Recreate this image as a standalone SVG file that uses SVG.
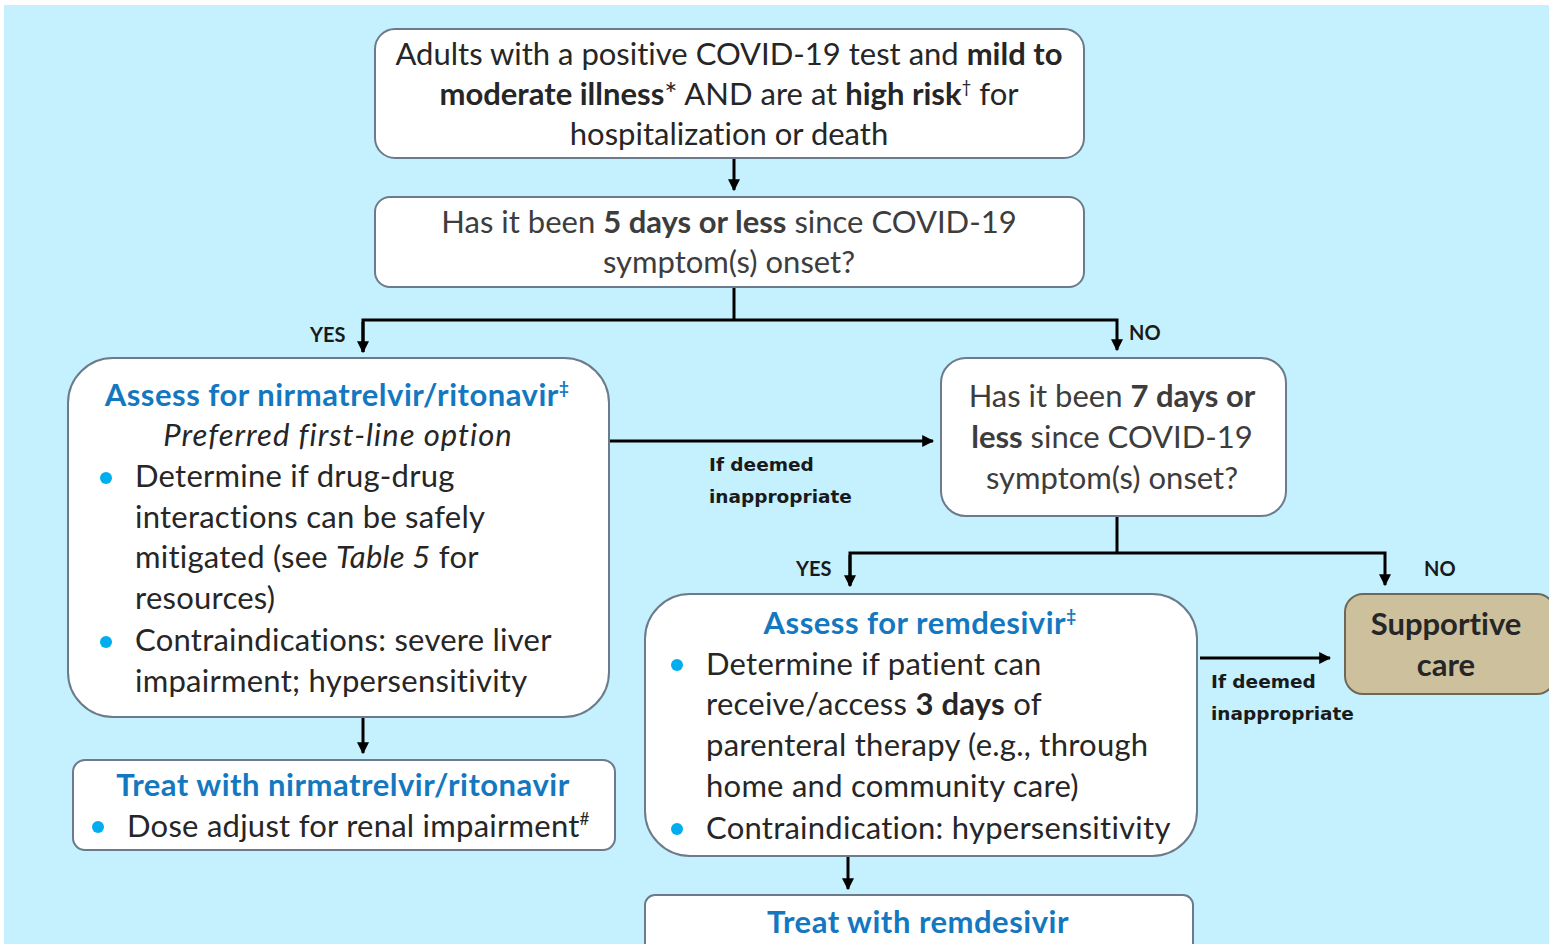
<svg xmlns="http://www.w3.org/2000/svg" width="1549" height="944" viewBox="0 0 1549 944">
<defs>
<marker id="ah" viewBox="0 0 10 10" refX="9" refY="5" markerWidth="4" markerHeight="4" markerUnits="strokeWidth" orient="auto">
<path d="M0,0 L10,5 L0,10 z" fill="#000"/>
</marker>
<style>
text{font-variant-ligatures:none}
.box{fill:#fff;stroke:#6c7b8b;stroke-width:2}
.sup{fill:#cdc09c;stroke:#6e6858;stroke-width:2}
.t{font-family:Lato,"Open Sans",sans-serif;font-size:31px;fill:#262626}
.bl{letter-spacing:0.25px}
.g{fill:#3d3d3d}
.b{font-weight:bold}
.i{font-style:italic}
.il{letter-spacing:1px}
.h{font-family:Lato,"Open Sans",sans-serif;font-size:31px;font-weight:bold;fill:#1478c0;letter-spacing:0.5px}
.lab{font-family:"DejaVu Sans",sans-serif;font-size:18.5px;font-weight:bold;fill:#1a1a1a}
.yn{font-family:Lato,sans-serif;font-size:20px;font-weight:bold;fill:#1a1a1a}
.dot{fill:#00aeef}
.c{fill:none;stroke:#000;stroke-width:3}
</style>
</defs>
<rect x="0" y="0" width="1549" height="944" fill="#fff"/>
<rect x="4" y="5" width="1545" height="939" fill="#c5f1fe"/>

<g id="connectors">
<line class="c" x1="734" y1="158" x2="734" y2="190" marker-end="url(#ah)"/>
<polyline class="c" points="734,287 734,320"/>
<polyline class="c" points="363,352 363,320 1117,320 1117,350" marker-end="url(#ah)"/>
<line class="c" x1="363" y1="322" x2="363" y2="352" marker-end="url(#ah)"/>
<line class="c" x1="609" y1="441" x2="933" y2="441" marker-end="url(#ah)"/>
<polyline class="c" points="1117,516 1117,553"/>
<polyline class="c" points="850,585 850,553 1385,553 1385,585" marker-end="url(#ah)"/>
<line class="c" x1="850" y1="555" x2="850" y2="586" marker-end="url(#ah)"/>
<line class="c" x1="1200" y1="658" x2="1330" y2="658" marker-end="url(#ah)"/>
<line class="c" x1="363" y1="717" x2="363" y2="753" marker-end="url(#ah)"/>
<line class="c" x1="848" y1="856" x2="848" y2="889" marker-end="url(#ah)"/>
<text class="yn" x="310" y="342">YES</text>
<text class="yn" x="1129" y="340">NO</text>
<text class="lab" x="709" y="471">If deemed</text>
<text class="lab" x="709" y="503">inappropriate</text>
<text class="yn" x="796" y="576">YES</text>
<text class="yn" x="1424" y="576">NO</text>
<text class="lab" x="1211" y="688">If deemed</text>
<text class="lab" x="1211" y="720">inappropriate</text>
</g>

<g id="start">
<rect class="box" x="375" y="29" width="709" height="129" rx="20"/>
<text class="t" text-anchor="middle" x="729" y="65">Adults with a positive COVID-19 test and <tspan class="b">mild to</tspan></text>
<text class="t" text-anchor="middle" x="729" y="105"><tspan class="b">moderate illness</tspan>* AND are at <tspan class="b">high risk</tspan><tspan font-size="17" dy="-12">†</tspan><tspan dy="12"> for</tspan></text>
<text class="t" text-anchor="middle" x="729" y="145">hospitalization or death</text>
</g>

<g id="q1">
<rect class="box" x="375" y="197" width="709" height="90" rx="15"/>
<text class="t g" text-anchor="middle" x="729" y="233">Has it been <tspan class="b">5 days or less</tspan> since COVID-19</text>
<text class="t g" text-anchor="middle" x="729" y="273">symptom(s) onset?</text>
</g>

<g id="assess-nirmatrelvir">
<rect class="box" x="68" y="358" width="541" height="359" rx="45"/>
<text class="h" text-anchor="middle" x="337" y="406">Assess for nirmatrelvir/ritonavir<tspan font-size="17" dy="-12">‡</tspan></text>
<text class="t i il" text-anchor="middle" x="338" y="446">Preferred first-line option</text>
<circle class="dot" cx="106" cy="478" r="6"/>
<text class="t bl" x="135" y="487">Determine if drug-drug</text>
<text class="t bl" x="135" y="528">interactions can be safely</text>
<text class="t bl" x="135" y="568">mitigated (see <tspan class="i">Table 5</tspan> for</text>
<text class="t bl" x="135" y="609">resources)</text>
<circle class="dot" cx="106" cy="642" r="6"/>
<text class="t bl" x="135" y="651">Contraindications: severe liver</text>
<text class="t bl" x="135" y="692">impairment; hypersensitivity</text>
</g>

<g id="q2">
<rect class="box" x="941" y="358" width="345" height="158" rx="25"/>
<text class="t g" text-anchor="middle" x="1112" y="407">Has it been <tspan class="b">7 days or</tspan></text>
<text class="t g" text-anchor="middle" x="1112" y="448"><tspan class="b">less</tspan> since COVID-19</text>
<text class="t g" text-anchor="middle" x="1112" y="489">symptom(s) onset?</text>
</g>

<g id="treat-nirmatrelvir">
<rect class="box" x="73" y="760" width="542" height="90" rx="12"/>
<text class="h" text-anchor="middle" x="343" y="796">Treat with nirmatrelvir/ritonavir</text>
<circle class="dot" cx="98" cy="827" r="6"/>
<text class="t bl" x="127" y="837">Dose adjust for renal impairment<tspan font-size="17" dy="-12">#</tspan></text>
</g>

<g id="assess-remdesivir">
<rect class="box" x="645" y="594" width="552" height="262" rx="45"/>
<text class="h" text-anchor="middle" x="920" y="634">Assess for remdesivir<tspan font-size="17" dy="-12">‡</tspan></text>
<circle class="dot" cx="677" cy="665" r="6"/>
<text class="t bl" x="706" y="675">Determine if patient can</text>
<text class="t bl" x="706" y="715">receive/access <tspan class="b">3 days</tspan> of</text>
<text class="t bl" x="706" y="756">parenteral therapy (e.g., through</text>
<text class="t bl" x="706" y="797">home and community care)</text>
<circle class="dot" cx="677" cy="829" r="6"/>
<text class="t bl" x="706" y="839">Contraindication: hypersensitivity</text>
</g>

<g id="supportive-care">
<rect class="sup" x="1345" y="594" width="210" height="100" rx="18"/>
<text class="t b" text-anchor="middle" fill="#333" x="1446" y="635">Supportive</text>
<text class="t b" text-anchor="middle" fill="#333" x="1446" y="676">care</text>
</g>

<g id="treat-remdesivir">
<rect class="box" x="645" y="895" width="548" height="60" rx="10"/>
<text class="h" text-anchor="middle" x="918" y="933">Treat with remdesivir</text>
</g>
</svg>
